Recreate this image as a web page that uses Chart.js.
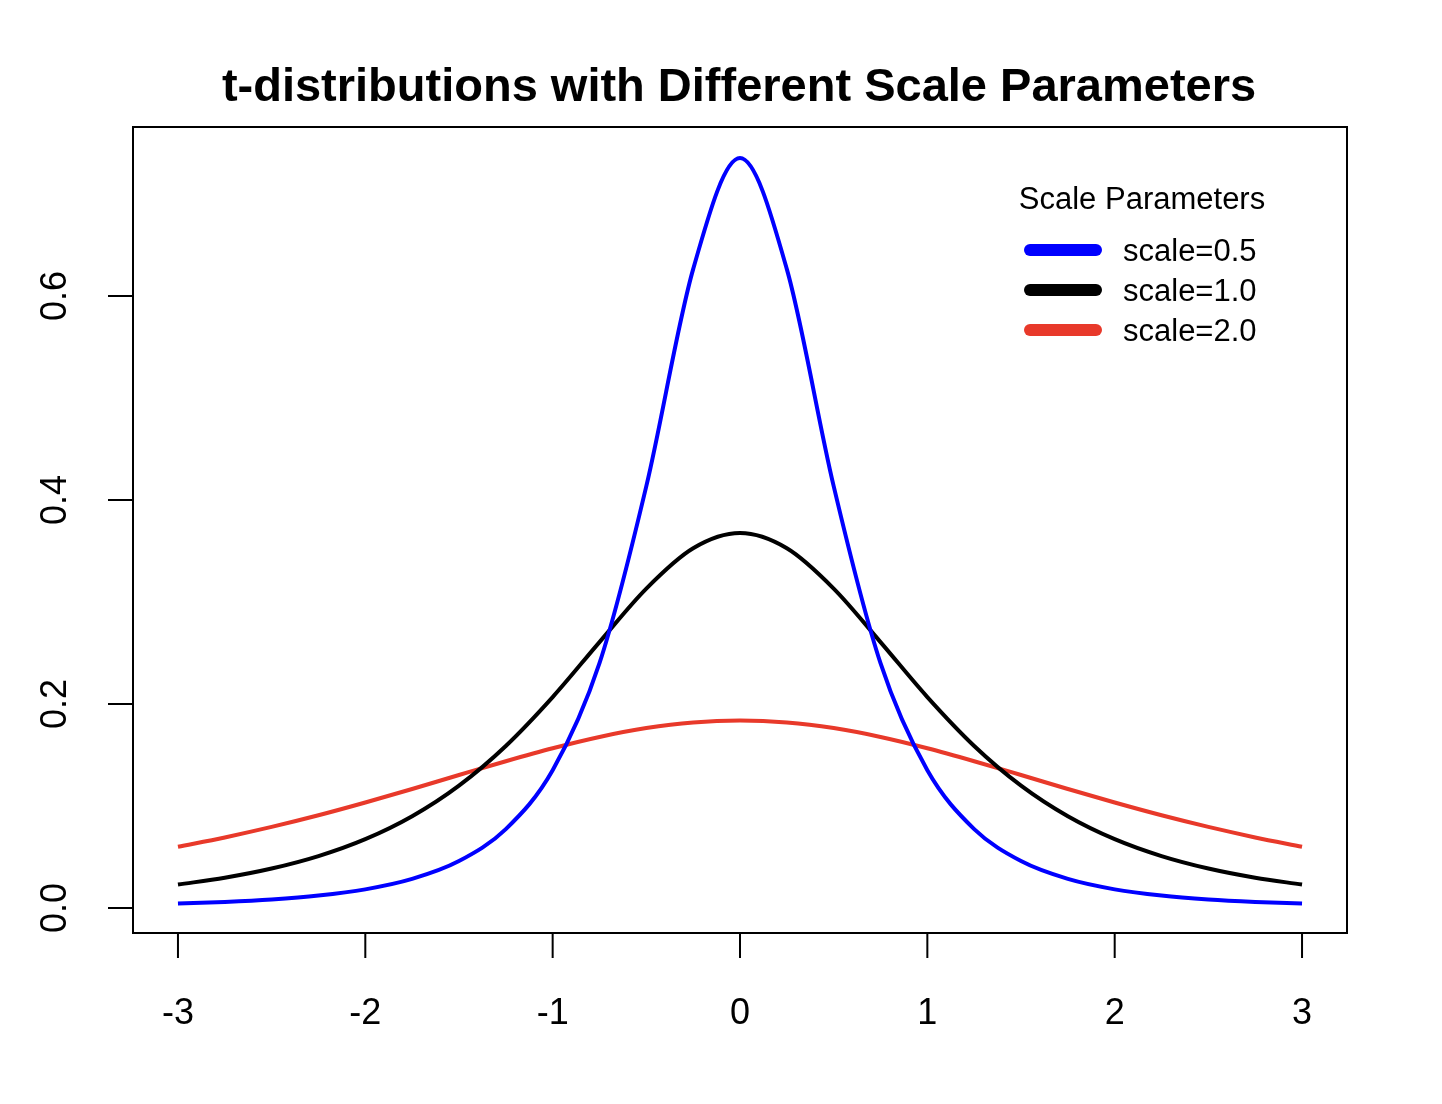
<!DOCTYPE html>
<html><head><meta charset="utf-8">
<script src="https://cdn.jsdelivr.net/npm/chart.js@4"></script>
<style>body{margin:0;background:#fff}#wrap{width:1442px;height:1104px}</style>
</head><body><div id="wrap"><canvas id="c"></canvas></div>
<script>
// x grid and density values
const xs = [-3,-2.75,-2.5,-2.25,-2,-1.75,-1.5,-1.25,-1,-0.75,-0.5,-0.25,0,0.25,0.5,0.75,1,1.25,1.5,1.75,2,2.25,2.5,2.75,3];
const scaleHalf = [.0044,.0060,.0084,.0122,.0183,.0285,.0460,.0774,.1350,.2400,.4136,.6264,.7352,.6264,.4136,.2400,.1350,.0774,.0460,.0285,.0183,.0122,.0084,.0060,.0044];
const scaleOne = [.0230,.0297,.0387,.0509,.0675,.0900,.1200,.1589,.2068,.2607,.3132,.3527,.3676,.3527,.3132,.2607,.2068,.1589,.1200,.0900,.0675,.0509,.0387,.0297,.0230];
const scaleTwo = [.0600,.0692,.0795,.0909,.1034,.1167,.1304,.1439,.1566,.1677,.1764,.1819,.1838,.1819,.1764,.1677,.1566,.1439,.1304,.1167,.1034,.0909,.0795,.0692,.0600];
const xTicks = [-3,-2,-1,0,1,2,3];
const yTicks = [0,0.2,0.4,0.6];
const legendLabels = ['scale=0.5','scale=1.0','scale=2.0'];
const colors = ['#0000FF','#000000','#E8392A'];

const pts = arr => arr.map((v,i) => ({x: xs[i], y: v}));
const FONT = '"Liberation Sans", Arial, sans-serif';

const rAxes = {
  id: 'rAxes',
  afterDraw(chart) {
    const {ctx, chartArea: a, scales: {x, y}} = chart;
    ctx.save();
    ctx.strokeStyle = '#000'; ctx.lineWidth = 2;
    ctx.strokeRect(a.left, a.top, a.right - a.left, a.bottom - a.top);
    ctx.fillStyle = '#000';
    ctx.font = '36px ' + FONT;
    // x axis
    ctx.beginPath();
    ctx.moveTo(x.getPixelForValue(xTicks[0]), a.bottom);
    ctx.lineTo(x.getPixelForValue(xTicks[xTicks.length-1]), a.bottom);
    xTicks.forEach(t => { const px = x.getPixelForValue(t); ctx.moveTo(px, a.bottom); ctx.lineTo(px, a.bottom + 25); });
    ctx.stroke();
    ctx.textAlign = 'center'; ctx.textBaseline = 'middle';
    xTicks.forEach(t => ctx.fillText(String(t), x.getPixelForValue(t), 1014));
    // y axis
    ctx.beginPath();
    ctx.moveTo(a.left, y.getPixelForValue(yTicks[0]));
    ctx.lineTo(a.left, y.getPixelForValue(yTicks[yTicks.length-1]));
    yTicks.forEach(t => { const py = y.getPixelForValue(t); ctx.moveTo(a.left, py); ctx.lineTo(a.left - 25, py); });
    ctx.stroke();
    yTicks.forEach(t => {
      ctx.save(); ctx.translate(56, y.getPixelForValue(t)); ctx.rotate(-Math.PI/2);
      ctx.fillText(t.toFixed(1), 0, 0); ctx.restore();
    });
    // title
    ctx.font = 'bold 47px ' + FONT;
    ctx.fillText('t-distributions with Different Scale Parameters', 739, 88);
    // legend
    ctx.font = '31px ' + FONT;
    ctx.fillText('Scale Parameters', 1142, 200);
    ctx.textAlign = 'left';
    legendLabels.forEach((l, i) => {
      const ly = 250 + i * 40;
      ctx.strokeStyle = colors[i]; ctx.lineWidth = 12; ctx.lineCap = 'round';
      ctx.beginPath(); ctx.moveTo(1030, ly); ctx.lineTo(1096, ly); ctx.stroke();
      ctx.fillText(l, 1123, ly + 2);
    });
    ctx.restore();
  }
};

new Chart(document.getElementById('c'), {
  type: 'line',
  data: {
    datasets: [scaleHalf, scaleOne, scaleTwo].map((d, i) => ({
      label: legendLabels[i], data: pts(d), borderColor: colors[i],
      borderWidth: 4, pointRadius: 0, cubicInterpolationMode: 'monotone', fill: false
    }))
  },
  options: {
    responsive: true, maintainAspectRatio: false, animation: false,
    layout: {padding: {left: 133, right: 95, top: 127, bottom: 171}},
    plugins: {legend: {display: false}, tooltip: {enabled: false}},
    scales: {
      x: {type: 'linear', min: -3.24, max: 3.24, display: false},
      y: {type: 'linear', min: -0.0245, max: 0.7657, display: false}
    }
  },
  plugins: [rAxes]
});
</script></body></html>
